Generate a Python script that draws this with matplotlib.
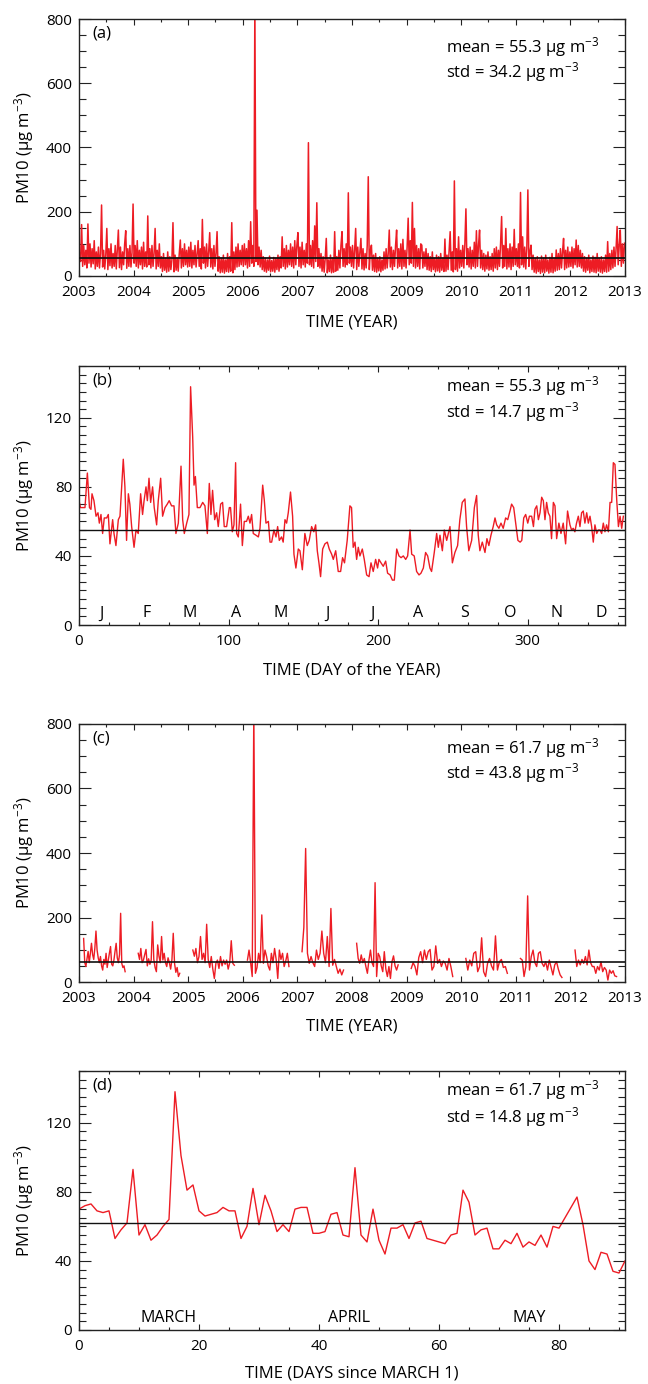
"""
Four-panel PM10 time series figure (daily series, seasonal cycle, spring subsets).
"""

import numpy as np
import matplotlib
matplotlib.use('Agg')
import matplotlib.pyplot as plt
from matplotlib.ticker import MultipleLocator

plt.rcParams['font.family'] = ['Open Sans', 'DejaVu Sans']
plt.rcParams['mathtext.fontset'] = 'custom'
plt.rcParams['mathtext.rm'] = 'Open Sans'
plt.rcParams['mathtext.it'] = 'Open Sans'
plt.rcParams['mathtext.default'] = 'regular'

# ---- (a) PM10 2003-2012, roughly weekly readings per year ----
a_2003 = [70, 45, 160, 30, 95, 35, 80, 25, 162, 40, 100, 28, 85, 38, 110, 22, 75, 30, 90, 25,
          70, 221, 28, 80, 22, 65, 148, 20, 85, 32, 100, 25, 70, 30, 95, 22, 80, 143, 26, 90,
          20, 75, 35, 100, 141, 24, 85, 30, 95, 28, 72, 224]
a_2004 = [40, 95, 30, 110, 25, 80, 35, 90, 22, 105, 30, 75, 28, 187, 35, 85, 25, 95, 30, 70,
          148, 22, 80, 30, 100, 25, 60, 14, 70, 18, 55, 12, 75, 15, 60, 20, 50, 166, 13, 65,
          18, 55, 15, 70, 112, 25, 85, 30, 100, 35, 80, 28]
a_2005 = [90, 30, 105, 25, 80, 35, 95, 28, 70, 110, 30, 85, 22, 176, 40, 90, 25, 100, 30, 75,
          135, 28, 85, 22, 95, 30, 70, 138, 15, 60, 10, 55, 12, 65, 9, 50, 14, 70, 12, 60,
          15, 166, 10, 75, 20, 90, 28, 100, 30, 80, 35, 95]
a_2006 = [30, 100, 35, 85, 25, 110, 30, 169, 40, 95, 30, 850, 45, 205, 35, 90, 28, 80, 20, 60,
          15, 55, 12, 50, 18, 62, 13, 48, 15, 58, 12, 55, 20, 65, 15, 60, 25, 122, 30, 85,
          22, 95, 28, 80, 35, 100, 30, 90, 25, 110, 35, 95]
a_2007 = [135, 30, 90, 25, 105, 35, 80, 28, 100, 40, 415, 35, 95, 30, 110, 25, 156, 45, 228, 30,
          85, 25, 70, 15, 60, 12, 55, 117, 10, 50, 14, 65, 10, 55, 12, 138, 15, 60, 18, 80,
          25, 95, 138, 30, 85, 28, 100, 35, 259, 40, 90, 30]
a_2008 = [95, 25, 80, 148, 20, 90, 30, 75, 117, 22, 85, 19, 70, 25, 95, 309, 20, 80, 96, 18,
          65, 14, 70, 12, 55, 16, 60, 13, 50, 18, 75, 22, 85, 25, 70, 143, 28, 90, 20, 80,
          30, 95, 143, 25, 85, 30, 100, 22, 114, 30, 80, 25]
a_2009 = [90, 180, 35, 110, 40, 229, 30, 148, 25, 95, 30, 85, 22, 100, 96, 25, 75, 30, 85, 20,
          70, 18, 60, 14, 75, 20, 55, 13, 65, 16, 60, 12, 70, 18, 55, 14, 115, 15, 65, 20,
          80, 138, 18, 75, 13, 296, 20, 85, 15, 122, 25, 80]
a_2010 = [30, 95, 25, 100, 209, 35, 85, 28, 90, 22, 80, 30, 105, 25, 141, 30, 95, 143, 25, 80,
          20, 70, 15, 65, 22, 75, 18, 60, 20, 70, 15, 85, 25, 90, 20, 80, 30, 100, 185, 25,
          95, 30, 148, 22, 85, 28, 100, 20, 90, 30, 145, 35]
a_2011 = [85, 30, 100, 25, 260, 35, 122, 28, 90, 22, 85, 268, 30, 75, 96, 20, 65, 12, 55, 9,
          60, 14, 50, 8, 62, 12, 55, 10, 65, 15, 50, 9, 58, 12, 70, 10, 55, 15, 81, 18,
          70, 20, 85, 25, 75, 117, 20, 80, 25, 90, 28, 75]
a_2012 = [30, 90, 25, 85, 35, 112, 28, 95, 30, 80, 25, 70, 15, 60, 12, 55, 18, 65, 10, 50,
          14, 62, 12, 58, 10, 70, 15, 55, 12, 60, 9, 50, 14, 65, 12, 107, 15, 70, 20, 80,
          25, 90, 30, 85, 154, 35, 95, 143, 30, 100, 40, 102]
a_years = [2003, 2004, 2005, 2006, 2007, 2008, 2009, 2010, 2011, 2012]
a_series = [a_2003, a_2004, a_2005, a_2006, a_2007, a_2008, a_2009, a_2010, a_2011, a_2012]

# ---- (b) mean annual cycle (day of year, PM10) ----
b_day = [0, 1, 3, 4, 5.6, 7, 8, 8.7, 10, 11.4, 12.7, 13.6, 14.7, 15.8, 16.9, 18.5, 19.6, 20.7, 22.5, 23.4,
         24.7, 26.3, 27.4, 29.6, 30.7, 31.8, 33, 34, 35.2, 36.8, 38.1, 39.6, 41.2, 42.5, 43.5, 44.8, 45.7, 46.8, 47.9, 49.2,
         50.3, 51.9, 53, 54.6, 55.9, 57.5, 59, 60.3, 61.9, 63.5, 64.8, 66.4, 68.2, 69.3, 70.4, 72, 73.5, 74.6, 76, 76.9,
         77.8, 79.1, 80.9, 82.7, 84.2, 85.8, 87.1, 88.2, 89.3, 90.7, 92, 93.1, 94.7, 96, 97.1, 98.7, 100.5, 101.3, 102.5, 103.6,
         104.7, 105.4, 106.5, 108, 109.2, 110.5, 112, 113.2, 114.3, 115.4, 116.5, 118.3, 119.9, 121, 122.8, 123.9, 125, 126.6, 127.7, 128.8,
         130.3, 131.7, 132.8, 133.9, 135.4, 136.5, 137.7, 138.8, 139.9, 141.4, 142.8, 143.7, 145, 146.6, 147.7, 149.3, 151, 152.6, 153.9, 155.5,
         157, 158.2, 159.3, 160.4, 161.5, 162.9, 164.4, 166, 167.3, 168.9, 170, 171.6, 173.3, 174.9, 176.2, 177.5, 179.3, 181.1, 182.2, 183.3,
         184.5, 185.6, 186.7, 187.8, 189.4, 190.7, 192.3, 193.9, 195.2, 196.7, 198.3, 199.6, 200.5, 201.9, 203.4, 205, 206.3, 208, 209.5, 210.8,
         212.4, 213.9, 215.3, 216.8, 218.4, 219.7, 221.3, 222.4, 224.1, 225.7, 227.3, 228.6, 230.2, 231.7, 233.1, 234.6, 235.7, 237.5, 239.1, 240.2,
         241.3, 242.9, 244.2, 245.8, 248, 249.6, 251.3, 253.1, 254.6, 256.2, 258, 259.1, 260.6, 262.5, 264.3, 265.8, 266.9, 268, 269.6, 271.4,
         272.7, 274, 275.4, 276.9, 278.1, 279.2, 280.7, 282.1, 283.6, 285.2, 286.6, 288.1, 289.2, 290.6, 291.9, 293.4, 294.9, 296, 297.3, 298.6,
         300, 301.1, 302.6, 303.8, 304.8, 306, 307.1, 308.2, 309.3, 310.4, 311.5, 312.6, 313.7, 314.8, 315.9, 317.1, 318.2, 319.3, 320.8, 322.2,
         323.7, 325.3, 326.6, 328.2, 329.3, 330.4, 331.5, 332.6, 333.8, 334.9, 336, 337.1, 338.2, 339.4, 340.5, 341.6, 342.7, 343.8, 344.9, 346.1,
         347.2, 348.3, 349.4, 350.5, 351.6, 352.7, 353.9, 355, 356.1, 357.2, 358.3, 359.5, 360.6, 361.7, 362.8, 363.9]
b_pm10 = [72, 68, 68, 68, 88, 68, 67, 76, 72, 63, 65, 59, 64, 53, 62, 62, 64, 47, 61, 53,
          46, 61, 63, 96, 80, 49, 76, 70, 57, 45, 55, 53, 76, 64, 72, 80, 72, 85, 71, 80,
          68, 58, 72, 85, 63, 68, 70, 72, 69, 69, 53, 59, 92, 61, 53, 59, 64, 138, 109, 81,
          86, 68, 68, 71, 69, 53, 82, 64, 78, 61, 65, 57, 70, 71, 57, 57, 68, 68, 54, 58,
          94, 53, 51, 70, 46, 60, 60, 63, 59, 64, 53, 52, 51, 56, 81, 72, 59, 60, 48, 48,
          55, 51, 57, 49, 51, 48, 61, 59, 65, 77, 63, 41, 33, 44, 43, 32, 53, 46, 49, 57,
          54, 58, 43, 36, 28, 44, 47, 48, 44, 41, 38, 43, 31, 31, 39, 36, 49, 69, 68, 45,
          48, 38, 45, 40, 44, 38, 29, 28, 36, 31, 38, 33, 38, 36, 34, 37, 30, 29, 26, 26,
          44, 40, 39, 40, 38, 40, 55, 41, 40, 31, 29, 30, 33, 42, 40, 33, 31, 42, 53, 45,
          52, 43, 55, 49, 57, 36, 42, 46, 61, 71, 73, 57, 43, 49, 68, 75, 52, 43, 48, 42,
          50, 46, 52, 57, 62, 58, 56, 59, 56, 62, 61, 66, 70, 68, 59, 49, 48, 49, 62, 64,
          59, 63, 63, 57, 67, 69, 61, 65, 74, 72, 61, 71, 65, 63, 50, 71, 69, 50, 59, 53,
          59, 47, 66, 58, 55, 56, 54, 59, 63, 57, 65, 66, 59, 65, 59, 63, 57, 48, 58, 53,
          55, 55, 53, 59, 54, 58, 54, 71, 71, 94, 93, 72, 57, 63, 56, 63]
b_month_day = [15, 45, 74, 105, 135, 166, 196, 227, 258, 288, 319, 349]
b_month_lbl = ['J', 'F', 'M', 'A', 'M', 'J', 'J', 'A', 'S', 'O', 'N', 'D']

# ---- (c) spring (Mar-May) subsets of each year ----
c_2003 = [135, 60, 48, 72, 95, 60, 89, 120, 85, 70, 105, 158, 99, 75, 60, 79, 50, 37, 70, 55,
          89, 45, 68, 90, 110, 55, 50, 68, 95, 120, 75, 60, 85, 213, 58, 45, 50, 32]
c_2004 = [89, 70, 104, 60, 68, 85, 101, 50, 72, 55, 68, 187, 70, 45, 32, 115, 80, 60, 141, 68,
          89, 60, 48, 75, 60, 40, 70, 151, 58, 30, 45, 17, 27]
c_2005 = [99, 80, 104, 60, 79, 141, 70, 89, 60, 179, 70, 45, 79, 40, 11, 58, 68, 42, 79, 50,
          68, 55, 68, 40, 60, 128, 58, 52]
c_2006 = [68, 99, 60, 17, 850, 27, 45, 89, 60, 208, 58, 99, 79, 50, 37, 89, 60, 104, 70, 11,
          99, 70, 89, 48, 65, 89, 48]
c_2007 = [94, 169, 414, 89, 58, 79, 60, 48, 99, 70, 89, 158, 89, 60, 141, 48, 228, 52, 70, 48,
          27, 40, 22, 37]
c_2008 = [120, 73, 58, 84, 60, 73, 48, 27, 68, 99, 60, 48, 308, 17, 89, 79, 50, 32, 94, 40,
          17, 48, 11, 63, 81, 50, 37, 53]
c_2009 = [42, 60, 48, 22, 76, 94, 60, 99, 70, 94, 101, 37, 48, 112, 58, 70, 48, 65, 58, 37,
          73, 48, 17]
c_2010 = [73, 37, 68, 50, 89, 94, 32, 48, 137, 32, 17, 58, 73, 50, 37, 143, 37, 63, 70, 45,
          48, 27]
c_2011 = [73, 68, 17, 48, 267, 37, 79, 99, 60, 48, 89, 94, 58, 48, 63, 37, 68, 45, 22, 53,
          63, 40, 22, 14]
c_2012 = [99, 48, 68, 53, 70, 58, 79, 53, 99, 60, 48, 48, 27, 48, 37, 63, 32, 45, 37, 6,
          37, 27, 35, 19, 17]
c_series = [c_2003, c_2004, c_2005, c_2006, c_2007, c_2008, c_2009, c_2010, c_2011, c_2012]

# ---- (d) mean spring cycle (days since March 1) ----
d_day = list(range(0, 81)) + [83, 84, 85, 86, 87, 88, 89, 90, 91]
d_pm10 = [70, 72, 73, 69, 68, 69, 53, 58, 62, 93, 55, 61, 52, 55, 60, 64, 138, 101, 81, 84,
          69, 66, 67, 68, 71, 69, 69, 53, 60, 82, 61, 78, 69, 57, 61, 57, 70, 71, 71, 56,
          56, 57, 67, 68, 55, 54, 94, 55, 51, 70, 52, 44, 59, 59, 61, 53, 62, 63, 53, 52,
          51, 50, 55, 56, 81, 74, 55, 58, 59, 47, 47, 52, 50, 56, 48, 51, 49, 55, 48, 60,
          59, 77, 61, 40, 35, 45, 44, 34, 33, 40]
d_month_day = [15, 45, 75]
d_month_lbl = ['MARCH', 'APRIL', 'MAY']

stats = {
    'a': (55.3, 34.2), 'b': (55.3, 14.7), 'c': (61.7, 43.8), 'd': (61.7, 14.8),
}

RED = '#ed1c24'
YLAB = r'PM10 (µg m$^{-3}$)'


def style_axis(ax, xlim, ylim, xmaj, xmin, ymaj, ymin):
    ax.set_xlim(*xlim)
    ax.set_ylim(*ylim)
    ax.xaxis.set_major_locator(MultipleLocator(xmaj))
    ax.xaxis.set_minor_locator(MultipleLocator(xmin))
    ax.yaxis.set_major_locator(MultipleLocator(ymaj))
    ax.yaxis.set_minor_locator(MultipleLocator(ymin))
    ax.tick_params(which='both', direction='in', top=True, right=True,
                   width=0.8, colors='#222222', labelcolor='black', labelsize=11)
    ax.tick_params(axis='y', which='major', length=8.5, pad=5)
    ax.tick_params(axis='y', which='minor', length=5)
    ax.tick_params(axis='x', which='major', length=4.5, pad=6.5)
    ax.tick_params(axis='x', which='minor', length=2.5)
    for sp in ax.spines.values():
        sp.set_linewidth(1.0)
        sp.set_color('#222222')
    ax.set_ylabel(YLAB, fontsize=12)
    ax.yaxis.set_label_coords(-0.079, 0.5)


def annotate(ax, letter, key, y_mean, y_std, mean_lw):
    mean, std = stats[key]
    ax.text(0.024, 0.945, f'({letter})', transform=ax.transAxes, fontsize=12,
            ha='left', va='center')
    ax.text(0.673, y_mean, f'mean = {mean:.1f} µg m$^{{-3}}$', transform=ax.transAxes,
            fontsize=12, ha='left', va='center')
    ax.text(0.673, y_std, f'std = {std:.1f} µg m$^{{-3}}$', transform=ax.transAxes,
            fontsize=12, ha='left', va='center')
    ax.axhline(mean, color='#111111', lw=mean_lw, zorder=3)


fig = plt.figure(figsize=(6.48, 13.84), dpi=100)
left, width = 0.1219, 0.8426
ax_a = fig.add_axes([left, 0.80058, width, 0.18569])
ax_b = fig.add_axes([left, 0.54841, width, 0.18714])
ax_c = fig.add_axes([left, 0.29046, width, 0.18642])
ax_d = fig.add_axes([left, 0.03902, width, 0.18714])

# (a)
xa, ya = [], []
for yr, vals in zip(a_years, a_series):
    n = len(vals)
    xa.extend(yr + (np.arange(n) + 0.5) / n)
    ya.extend(vals)
ax_a.plot(xa, ya, color=RED, lw=1.1)
style_axis(ax_a, (2003, 2013), (0, 800), 1, 0.5, 200, 50)
annotate(ax_a, 'a', 'a', 0.891, 0.794, 1.3)
ax_a.set_xlabel('TIME (YEAR)', fontsize=12)

# (b)
ax_b.plot(b_day, b_pm10, color=RED, lw=1.0)
style_axis(ax_b, (0, 365), (0, 150), 100, 20, 40, 5)
annotate(ax_b, 'b', 'b', 0.922, 0.824, 1.0)
for d, lbl in zip(b_month_day, b_month_lbl):
    ax_b.text(d, 0.045, lbl, transform=ax_b.get_xaxis_transform(), ha='center',
              va='center', fontsize=11.5)
ax_b.set_xlabel('TIME (DAY of the YEAR)', fontsize=12)

# (c)
seg_start, seg_len = 0.085, 0.76
for yr, vals in zip(a_years, c_series):
    xs = yr + seg_start + np.linspace(0, 1, len(vals)) * seg_len
    ax_c.plot(xs, vals, color=RED, lw=1.0)
style_axis(ax_c, (2003, 2013), (0, 800), 1, 0.5, 200, 50)
annotate(ax_c, 'c', 'c', 0.907, 0.810, 1.2)
ax_c.set_xlabel('TIME (YEAR)', fontsize=12)

# (d)
ax_d.plot(d_day, d_pm10, color=RED, lw=1.0)
style_axis(ax_d, (0, 91), (0, 150), 20, 5, 40, 5)
annotate(ax_d, 'd', 'd', 0.927, 0.824, 1.0)
for d, lbl in zip(d_month_day, d_month_lbl):
    ax_d.text(d, 0.045, lbl, transform=ax_d.get_xaxis_transform(), ha='center',
              va='center', fontsize=11.5)
ax_d.set_xlabel('TIME (DAYS since MARCH 1)', fontsize=12)

for ax, ylab in zip((ax_a, ax_b, ax_c, ax_d), (-0.15, -0.146, -0.14, -0.138)):
    ax.xaxis.set_label_coords(0.5, ylab)

fig.savefig('out.png', dpi=100)
